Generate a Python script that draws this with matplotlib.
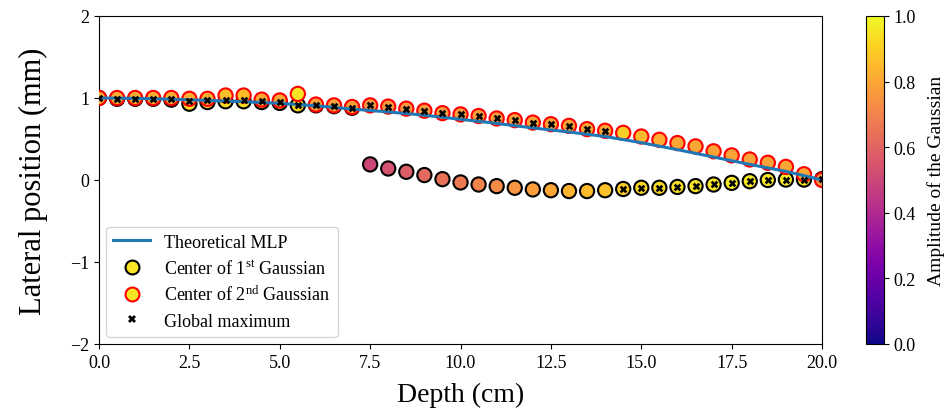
import numpy as np
import matplotlib
matplotlib.use("Agg")
import matplotlib.pyplot as plt
from matplotlib.lines import Line2D

plt.rcParams['font.family'] = ['Liberation Serif', 'DejaVu Serif']
plt.rcParams['mathtext.fontset'] = 'custom'
plt.rcParams['mathtext.rm'] = 'Liberation Serif'
plt.rcParams['mathtext.it'] = 'Liberation Serif:italic'

depth = np.arange(0, 20.01, 0.5)

center1 = [1.0, 0.99, 0.99, 0.99, 0.98, 0.93, 0.95, 0.96, 0.96, 0.95,
           0.94, 0.91, 0.91, 0.90, 0.88,
           0.19, 0.14, 0.10, 0.06, 0.01, -0.03, -0.055, -0.075, -0.095, -0.115,
           -0.125, -0.135, -0.135, -0.125, -0.11, -0.095, -0.095, -0.085, -0.075,
           -0.055, -0.035, -0.015, 0.0, 0.005, 0.005, 0.01]
amp1 = [0.95, 0.95, 0.95, 0.95, 0.95, 0.93, 0.93, 0.93, 0.93, 0.93,
        0.93, 0.92, 0.92, 0.92, 0.92,
        0.50, 0.54, 0.58, 0.61, 0.64, 0.67, 0.70, 0.72, 0.75, 0.78,
        0.80, 0.83, 0.85, 0.87, 0.90, 0.92, 0.93, 0.94, 0.95, 0.95,
        0.96, 0.96, 0.96, 0.96, 0.95, 0.95]

center2 = [1.0, 1.0, 1.0, 1.0, 1.0, 0.99, 0.99, 1.03, 1.03, 0.98,
           0.97, 1.05, 0.92, 0.91, 0.89,
           0.91, 0.895, 0.87, 0.845, 0.815, 0.80, 0.78, 0.75, 0.73, 0.70,
           0.68, 0.66, 0.62, 0.60, 0.575, 0.53, 0.49, 0.45, 0.41, 0.35,
           0.30, 0.25, 0.21, 0.16, 0.07, 0.0]
amp2 = [0.82, 0.82, 0.82, 0.82, 0.82, 0.82, 0.82, 0.86, 0.86, 0.80,
        0.80, 0.95, 0.78, 0.78, 0.78,
        0.76, 0.76, 0.76, 0.76, 0.77, 0.77, 0.78, 0.78, 0.78, 0.79,
        0.79, 0.80, 0.80, 0.80, 0.90, 0.85, 0.82, 0.80, 0.80, 0.79,
        0.79, 0.79, 0.79, 0.80, 0.80, 0.75]

global_max = [1.0, 0.99, 0.99, 0.99, 0.99, 0.96, 0.97, 0.98, 0.98, 0.96,
              0.95, 0.92, 0.91, 0.90, 0.88,
              0.91, 0.895, 0.87, 0.845, 0.815, 0.80, 0.78, 0.75, 0.73, 0.70,
              0.68, 0.66, 0.62, 0.60,
              -0.11, -0.095, -0.095, -0.085, -0.075, -0.055,
              -0.035, -0.015, 0.0, 0.005, 0.005, 0.01]

mlp_depth = list(range(0, 21))
mlp_pos = [1.0, 0.995, 0.985, 0.97, 0.955, 0.935, 0.905, 0.865, 0.83, 0.79,
           0.74, 0.69, 0.635, 0.585, 0.53, 0.455, 0.37, 0.28, 0.19, 0.105, 0.0]

fig = plt.figure(figsize=(9.52, 4.14), dpi=100)
ax = fig.add_axes([0.104, 0.1667, 0.7595, 0.7923])
cax = fig.add_axes([0.9097, 0.1667, 0.0189, 0.7923])

cmap = plt.get_cmap('plasma')
ax.scatter(depth, center1, c=amp1, cmap=cmap, vmin=0, vmax=1, s=105,
           edgecolors='black', linewidths=1.5, zorder=2)
ax.scatter(depth, center2, c=amp2, cmap=cmap, vmin=0, vmax=1, s=105,
           edgecolors='red', linewidths=1.5, zorder=3)
ax.plot(mlp_depth, mlp_pos, color='#1f77b4', lw=2.2, zorder=4)
ax.scatter(depth, global_max, marker='X', s=30, color='black', zorder=5, linewidths=0)

ax.set_xlim(0, 20)
ax.set_ylim(-2, 2)
ax.set_xticks(np.arange(0, 20.01, 2.5))
ax.set_xticklabels([f"{v:.1f}" for v in np.arange(0, 20.01, 2.5)])
ax.set_yticks([-2, -1, 0, 1, 2])
ax.set_yticklabels(['\u22122', '\u22121', '0', '1', '2'])
ax.tick_params(labelsize=13)
ax.set_xlabel('Depth (cm)', fontsize=20, labelpad=8)
ax.set_ylabel('Lateral position (mm)', fontsize=22, labelpad=16)

handles = [
    Line2D([], [], color='#1f77b4', lw=2.2),
    Line2D([], [], ls='none', marker='o', markersize=10, markerfacecolor=cmap(0.95),
           markeredgecolor='black', markeredgewidth=1.5),
    Line2D([], [], ls='none', marker='o', markersize=10, markerfacecolor=cmap(0.95),
           markeredgecolor='red', markeredgewidth=1.5),
    Line2D([], [], ls='none', marker='X', markersize=6, color='black', markeredgewidth=0),
]
labels = ['Theoretical MLP', 'Center of 1$^{\\mathrm{st}}$ Gaussian',
          'Center of 2$^{\\mathrm{nd}}$ Gaussian', 'Global maximum']
ax.legend(handles, labels, loc='lower left', fontsize=13, framealpha=0.8,
          borderaxespad=0.4, labelspacing=0.45, handletextpad=0.8)

sm = plt.cm.ScalarMappable(cmap=cmap, norm=plt.Normalize(0, 1))
cb = fig.colorbar(sm, cax=cax)
cb.set_ticks([0, 0.2, 0.4, 0.6, 0.8, 1.0])
cb.ax.tick_params(labelsize=13)
cb.set_label('Amplitude of the Gaussian', fontsize=14, labelpad=8)

fig.savefig('out.png', dpi=100)
